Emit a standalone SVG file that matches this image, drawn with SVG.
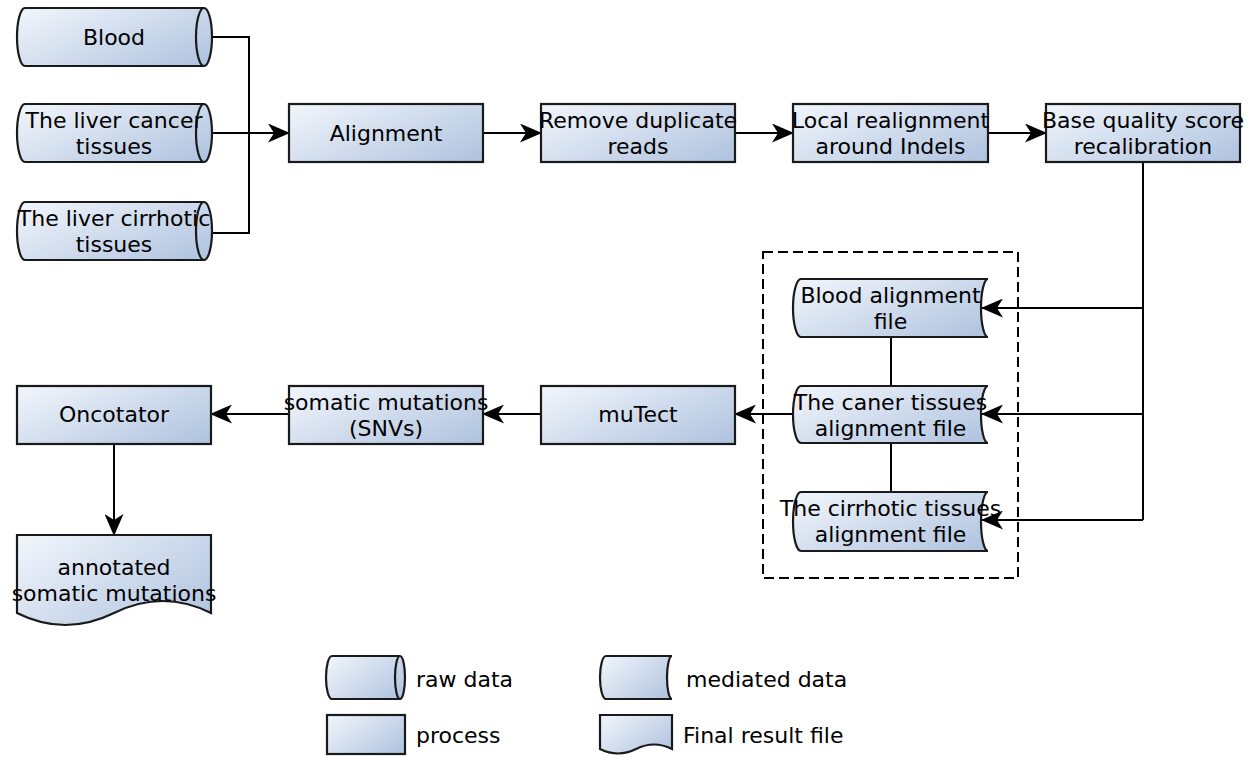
<svg xmlns="http://www.w3.org/2000/svg" width="1257" height="757" viewBox="0 0 1257 757">
<defs>
<linearGradient id="g" x1="0" y1="0.15" x2="1" y2="0.85">
<stop offset="0" stop-color="#eef3fa"/>
<stop offset="1" stop-color="#b2c5e0"/>
</linearGradient>
<marker id="arr" viewBox="0 0 22 19" refX="21" refY="9.5" markerWidth="22" markerHeight="19" markerUnits="userSpaceOnUse" orient="auto">
<path d="M0,0 L22,9.5 L0,19 L6,9.5 Z" fill="#000"/>
</marker>
</defs>
<style>
.s{fill:url(#g);stroke:#1a1a1a;stroke-width:2.2}
.i{fill:none;stroke:#1a1a1a;stroke-width:2.2}
.c{fill:none;stroke:#000;stroke-width:2}
.a{marker-end:url(#arr)}
text{font-family:"DejaVu Sans",Verdana,sans-serif;font-size:22px;fill:#000}
.m{text-anchor:middle}
</style>
<rect width="1257" height="757" fill="#fff"/>
<g id="connectors">
<path class="c" d="M212,37 H249 V233 H212"/>
<path class="c a" d="M212,133 H289"/>
<path class="c a" d="M483,133 H541"/>
<path class="c a" d="M735,133 H793"/>
<path class="c a" d="M988,133 H1046"/>
<path class="c" d="M1143,162 V520"/>
<path class="c a" d="M1143,308 H982"/>
<path class="c a" d="M1143,414 H982"/>
<path class="c a" d="M1143,520 H982"/>
<path class="c" d="M891,337 V386 M891,443 V492"/>
<path class="c a" d="M793,414 H735"/>
<path class="c a" d="M541,414 H483"/>
<path class="c a" d="M289,414 H211"/>
<path class="c a" d="M114,444 V535"/>
</g>
<g id="group-box">
<rect x="763" y="252" width="255" height="326" fill="none" stroke="#000" stroke-width="2" stroke-dasharray="10 5"/>
</g>
<g id="blood">
<path class="s" d="M25,8 H204 A8,29 0 0 1 204,66 H25 A8,29 0 0 1 25,8 Z"/>
<path class="i" d="M204,8 A8,29 0 0 0 204,66"/>
<text class="m" x="114" y="45">Blood</text>
</g>
<g id="liver-cancer">
<path class="s" d="M25,104 H204 A8,29 0 0 1 204,162 H25 A8,29 0 0 1 25,104 Z"/>
<path class="i" d="M204,104 A8,29 0 0 0 204,162"/>
<text class="m" x="114" y="128">The liver cancer</text>
<text class="m" x="114" y="154">tissues</text>
</g>
<g id="liver-cirrhotic">
<path class="s" d="M25,202 H204 A8,29 0 0 1 204,260 H25 A8,29 0 0 1 25,202 Z"/>
<path class="i" d="M204,202 A8,29 0 0 0 204,260"/>
<text class="m" x="114" y="226">The liver cirrhotic</text>
<text class="m" x="114" y="252">tissues</text>
</g>
<g id="alignment">
<rect class="s" x="289" y="104" width="194" height="58"/>
<text class="m" x="386" y="141">Alignment</text>
</g>
<g id="remove-duplicate">
<rect class="s" x="541" y="104" width="194" height="58"/>
<text class="m" x="638" y="128">Remove duplicate</text>
<text class="m" x="638" y="154">reads</text>
</g>
<g id="local-realignment">
<rect class="s" x="793" y="104" width="195" height="58"/>
<text class="m" x="890.5" y="128">Local realignment</text>
<text class="m" x="890.5" y="154">around Indels</text>
</g>
<g id="base-quality">
<rect class="s" x="1046" y="104" width="194" height="58"/>
<text class="m" x="1143" y="128">Base quality score</text>
<text class="m" x="1143" y="154">recalibration</text>
</g>
<g id="blood-alignment">
<path class="s" d="M801,279 H988 A7,29 0 0 0 988,337 H801 A8,29 0 0 1 801,279 Z"/>
<text class="m" x="890.5" y="303">Blood alignment</text>
<text class="m" x="890.5" y="329">file</text>
</g>
<g id="caner-alignment">
<path class="s" d="M801,386 H988 A7,28.5 0 0 0 988,443 H801 A8,28.5 0 0 1 801,386 Z"/>
<text class="m" x="890.5" y="410">The caner tissues</text>
<text class="m" x="890.5" y="436">alignment file</text>
</g>
<g id="cirrhotic-alignment">
<path class="s" d="M801,492 H988 A7,29.5 0 0 0 988,551 H801 A8,29.5 0 0 1 801,492 Z"/>
<text class="m" x="890.5" y="516">The cirrhotic tissues</text>
<text class="m" x="890.5" y="542">alignment file</text>
</g>
<g id="mutect">
<rect class="s" x="541" y="386" width="194" height="58"/>
<text class="m" x="638" y="422">muTect</text>
</g>
<g id="somatic-mutations">
<rect class="s" x="289" y="386" width="194" height="58"/>
<text class="m" x="386" y="410">somatic mutations</text>
<text class="m" x="386" y="436">(SNVs)</text>
</g>
<g id="oncotator">
<rect class="s" x="17" y="386" width="194" height="58"/>
<text class="m" x="114" y="422">Oncotator</text>
</g>
<g id="annotated">
<path class="s" d="M17,535 H211 V613 Q163,589 114,613 Q65,637 17,613 Z"/>
<text class="m" x="114" y="575">annotated</text>
<text class="m" x="114" y="601">somatic mutations</text>
</g>
<g id="legend">
<path class="s" d="M332,656 H400 A5,21.5 0 0 1 400,699 H332 A6,21.5 0 0 1 332,656 Z"/>
<path class="i" d="M400,656 A5,21.5 0 0 0 400,699"/>
<text x="416" y="687">raw data</text>
<path class="s" d="M606,656 H672 A5,21.5 0 0 0 672,699 H606 A6,21.5 0 0 1 606,656 Z"/>
<text x="686" y="687">mediated data</text>
<rect class="s" x="327" y="715" width="78" height="39"/>
<text x="416" y="743">process</text>
<path class="s" d="M600,715 H672 V749 Q654,740 636,749 Q618,758 600,749 Z"/>
<text x="683" y="743">Final result file</text>
</g>
</svg>
